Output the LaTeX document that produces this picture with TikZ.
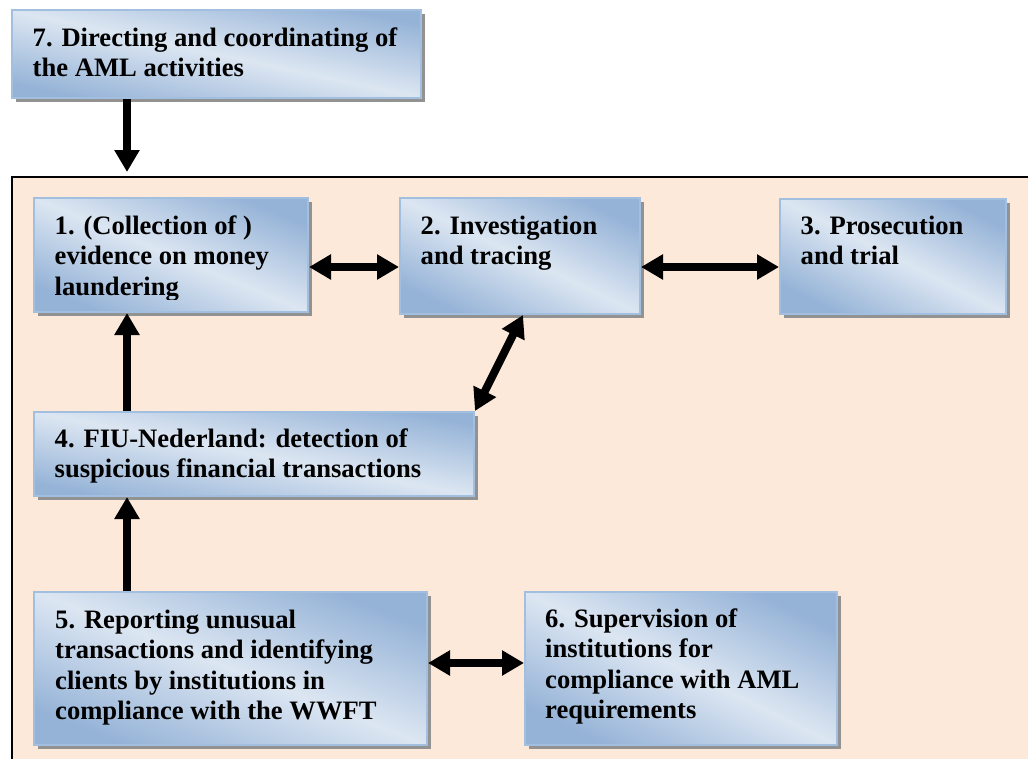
\documentclass[tikz,border=0pt]{standalone}
\usepackage{fontspec}
\setmainfont{Liberation Serif}
\usetikzlibrary{arrows.meta,shadows,calc}
\definecolor{peach}{HTML}{FDE9D9}
\definecolor{bdark}{HTML}{95B3D7}
\definecolor{blight}{HTML}{DCE6F2}
\definecolor{bborder}{HTML}{A3BFE0}
\definecolor{shgray}{HTML}{929292}
\begin{document}
\begin{tikzpicture}[x=1pt,y=-1pt,
  box/.style={rectangle, draw=bborder, line width=2pt, inner sep=0pt, anchor=north west,
    top color=bdark, bottom color=bdark, middle color=blight, shading angle=-45,
    general shadow={fill=shgray, shadow xshift=4pt, shadow yshift=-4pt}},
  txt/.style={font=\fontsize{26.6}{30.5}\selectfont\bfseries, align=left, inner sep=0pt, anchor=base west},
  arr/.style={line width=8pt, -{Triangle[width=24pt,length=22pt]}},
  darr/.style={line width=8pt, {Triangle[width=24pt,length=22pt]}-{Triangle[width=24pt,length=22pt]}},
]
\useasboundingbox (0,0) rectangle (1028,758);
\clip (0,0) rectangle (1028,758);
\fill[white] (0,0) rectangle (1028,758);

% background panel
\node[draw=black, line width=2pt, fill=peach, anchor=north west, inner sep=0pt,
      minimum width=1100pt, minimum height=700pt] (bg) at (11,176) {};

% helper coordinates
\coordinate (ax) at (127,0);
\coordinate (ay) at (0,267);
\coordinate (dx) at (523,0);
\coordinate (ey) at (0,663);

% boxes (shading angle set so the light band runs along the top-left/bottom-right diagonal)
\node[box, shading angle=-12, minimum width=409pt, minimum height=88pt] (b7) at (11,9) {};
\node[box, shading angle=-22.6, minimum width=274pt, minimum height=114pt] (b1) at (33,197) {};
\node[box, shading angle=-25.8, minimum width=240pt, minimum height=116pt] (b2) at (399,197) {};
\node[box, shading angle=-27, minimum width=226pt, minimum height=115pt] (b3) at (779,198) {};
\node[box, shading angle=-10.8, minimum width=440pt, minimum height=84pt] (b4) at (33,411) {};
\node[box, shading angle=-21.3, minimum width=393pt, minimum height=153pt] (b5) at (33,591) {};
\node[box, shading angle=-26.1, minimum width=312pt, minimum height=153pt] (b6) at (524,591) {};

% texts (anchor = baseline of the last line)
\node[txt] (t7) at ($(b7.north west)+(21.5,67.5)$) {7. Directing and coordinating of\\the AML activities};
\begin{scope}
\clip (0,0) rectangle (1028,299);
\node[txt] (t1) at ($(b1.north west)+(21.5,98)$) {1. (Collection of )\\evidence on money\\laundering};
\end{scope}
\node[txt] (t2) at ($(b2.north west)+(21.5,67.5)$) {2. Investigation\\and tracing};
\node[txt] (t3) at ($(b3.north west)+(21.5,66.5)$) {3. Prosecution\\and trial};
\node[txt] (t4) at ($(b4.north west)+(21.5,66.5)$) {4. FIU-Nederland: detection of\\suspicious financial transactions};
\node[txt] (t5) at ($(b5.north west)+(22,128.5)$) {5. Reporting unusual\\transactions and identifying\\clients by institutions in\\compliance with the WWFT};
\node[txt] (t6) at ($(b6.north west)+(21,127.5)$) {6. Supervision of\\institutions for\\compliance with AML\\requirements};

% connectors
\draw[arr, shorten >=4pt] (b7.south -| ax) -- (bg.north -| ax);
\draw[arr] (b4.north -| ax) -- (b1.south -| ax);
\draw[arr] (b5.north -| ax) -- (b4.south -| ax);
\draw[darr] (b1.east |- ay) -- (b2.west |- ay);
\draw[darr] (b2.east |- ay) -- (b3.west |- ay);
\draw[darr] (b4.north east) -- (b2.south -| dx);
\draw[darr] (b5.east |- ey) -- (b6.west |- ey);
\end{tikzpicture}
\end{document}
